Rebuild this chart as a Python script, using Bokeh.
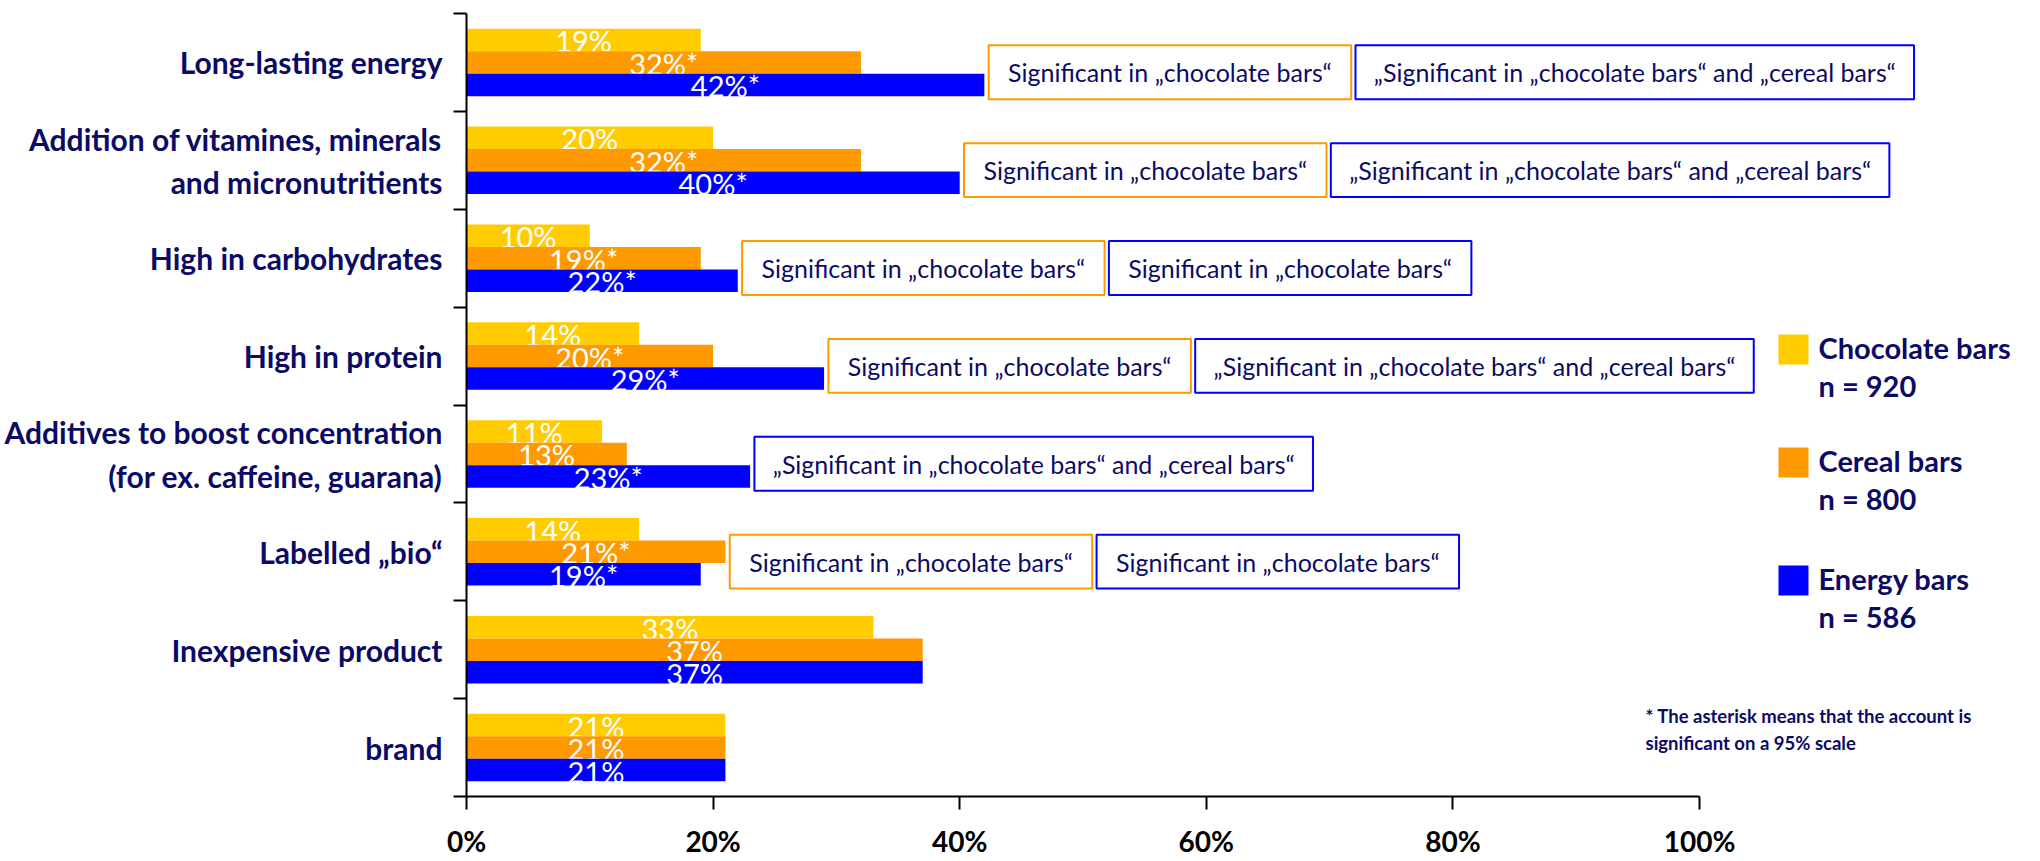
from bokeh.plotting import figure
from bokeh.models import Range1d, FixedTicker, ColumnDataSource
from bokeh.core.properties import value
from bokeh.embed import file_html
from bokeh.resources import INLINE

# ---- data ----
categories = [
    "Long-lasting energy",
    "Addition of vitamines, minerals\nand micronutritients",
    "High in carbohydrates",
    "High in protein",
    "Additives to boost concentration\n(for ex. caffeine, guarana)",
    "Labelled \u201ebio\u201c",
    "Inexpensive product",
    "brand",
]
chocolate = [19, 20, 10, 14, 11, 14, 33, 21]
cereal = [32, 32, 19, 20, 13, 21, 37, 21]
energy = [42, 40, 22, 29, 23, 19, 37, 21]
chocolate_sig = [False, False, False, False, False, False, False, False]
cereal_sig = [True, True, True, True, False, True, False, False]
energy_sig = [True, True, True, True, True, True, False, False]

series_names = ["Chocolate bars", "Cereal bars", "Energy bars"]
sample_sizes = [920, 800, 586]

cereal_note = ["chocolate", "chocolate", "chocolate", "chocolate", None, "chocolate", None, None]
energy_note = ["both", "both", "chocolate", "both", "both", "chocolate", None, None]
note_texts = {
    "chocolate": "Significant in \u201echocolate bars\u201c",
    "both": "\u201eSignificant in \u201echocolate bars\u201c and \u201ecereal bars\u201c",
}
x_ticks = [0, 20, 40, 60, 80, 100]
footnote = ["*  The asterisk means that the account is", "significant on a 95% scale"]

# ---- styling / layout ----
COLORS = ["#FFCC00", "#FF9900", "#0000FF"]
NAVY = "#0b0b66"
FONT = "Lato"

LEFT, TOP = 466, 13
FRAME_W, FRAME_H = 1564, 783
X_END = FRAME_W / 12.33
N = len(categories)
PX_X = FRAME_W / X_END
PX_Y = FRAME_H / N


def sx(px):
    return (px - LEFT) / PX_X


def sy(py):
    return (N - 0.5) - (py - TOP) / PX_Y


p = figure(
    frame_width=FRAME_W, frame_height=FRAME_H,
    min_border_left=LEFT, min_border_top=TOP, min_border_right=10, min_border_bottom=65,
    x_range=Range1d(0, X_END), y_range=Range1d(-0.5, N - 0.5),
    output_backend="svg", toolbar_location=None,
)
p.outline_line_color = None
p.xgrid.visible = False
p.ygrid.visible = False
p.background_fill_color = "white"

ypos = [N - 1 - i for i in range(N)]
BAR_H = 0.23
offsets = [BAR_H, 0.0, -BAR_H]
series = [chocolate, cereal, energy]
sigs = [chocolate_sig, cereal_sig, energy_sig]

# each series is drawn with its labels before the next one, so the next
# bar slightly overlaps the foot of the previous labels
for vals, sig, off, col in zip(series, sigs, offsets, COLORS):
    ys = [y + off for y in ypos]
    src = ColumnDataSource(dict(
        y=ys, right=vals, mid=[v / 2 for v in vals],
        label=[f"{v}%" + ("*" if s else "") for v, s in zip(vals, sig)],
    ))
    p.hbar(y="y", left=0, right="right", height=BAR_H, source=src,
           fill_color=col, line_color=None)
    p.text(x="mid", y="y", text="label", source=src, text_color="white",
           text_font=value(FONT), text_font_size="29px", text_align="center",
           text_baseline="middle", y_offset=1)

# significance notes next to each group
BOX_W = {"chocolate": 29.4, "both": 45.3}
BOX_H = 0.55
GAP = 0.35
l, r, t, b, lc, tx, ty, tt = [], [], [], [], [], [], [], []
for i in range(N):
    x0 = max(chocolate[i], cereal[i], energy[i]) + GAP
    yc = ypos[i] - 0.1
    for note, col in ((cereal_note[i], COLORS[1]), (energy_note[i], COLORS[2])):
        if note is None:
            continue
        x1 = x0 + BOX_W[note]
        l.append(x0); r.append(x1); t.append(yc + BOX_H / 2); b.append(yc - BOX_H / 2)
        lc.append(col)
        tx.append((x0 + x1) / 2); ty.append(yc); tt.append(note_texts[note])
        x0 = x1 + GAP
p.quad(left=l, right=r, top=t, bottom=b, fill_color="white", line_color=lc, line_width=2)
p.text(x=tx, y=ty, text=tt, text_color=NAVY, text_font=value(FONT),
       text_font_size="25px", text_align="center", text_baseline="middle")

# legend
leg_y = [349, 462, 580]
for name, n, col, py in zip(series_names, sample_sizes, COLORS, leg_y):
    p.rect(x=[sx(1793)], y=[sy(py)], width=30, height=30, width_units="screen",
           height_units="screen", fill_color=col, line_color=None)
    p.text(x=[sx(1818)] * 2, y=[sy(py - 2), sy(py + 36)], text=[name, f"n = {n}"],
           text_color=NAVY, text_font=value(FONT), text_font_style="bold",
           text_font_size="29px", text_align="left", text_baseline="middle")

# footnote
p.text(x=[sx(1645)] * 2, y=[sy(715), sy(742)], text=footnote, text_color=NAVY,
       text_font=value(FONT), text_font_style="bold", text_font_size="18.5px",
       text_align="left", text_baseline="middle")

# axes
xa = p.xaxis[0]
xa.ticker = FixedTicker(ticks=x_ticks)
xa.major_label_overrides = {t: f"{t}%" for t in x_ticks}
xa.bounds = (0, 100)
xa.axis_line_width = 2
xa.axis_line_color = "black"
xa.major_tick_line_width = 2
xa.major_tick_out = 13
xa.major_tick_in = 0
xa.minor_tick_line_color = None
xa.major_label_text_font = FONT
xa.major_label_text_font_style = "bold"
xa.major_label_text_font_size = "28px"
xa.major_label_text_color = "black"
xa.major_label_standoff = 14

ya = p.yaxis[0]
ya.ticker = FixedTicker(ticks=ypos, minor_ticks=[k - 0.5 for k in range(N + 1)])
ya.major_label_overrides = {y: c for y, c in zip(ypos, categories)}
ya.bounds = (-0.5, N - 0.5)
ya.axis_line_width = 2
ya.axis_line_color = "black"
ya.major_tick_out = 0
ya.major_tick_in = 0
ya.minor_tick_out = 13
ya.minor_tick_in = 0
ya.minor_tick_line_width = 2
ya.minor_tick_line_color = "black"
ya.major_label_text_font = FONT
ya.major_label_text_font_style = "bold"
ya.major_label_text_font_size = "30px"
ya.major_label_text_color = NAVY
ya.major_label_standoff = 11

open("out.html", "w").write(file_html(p, INLINE))
